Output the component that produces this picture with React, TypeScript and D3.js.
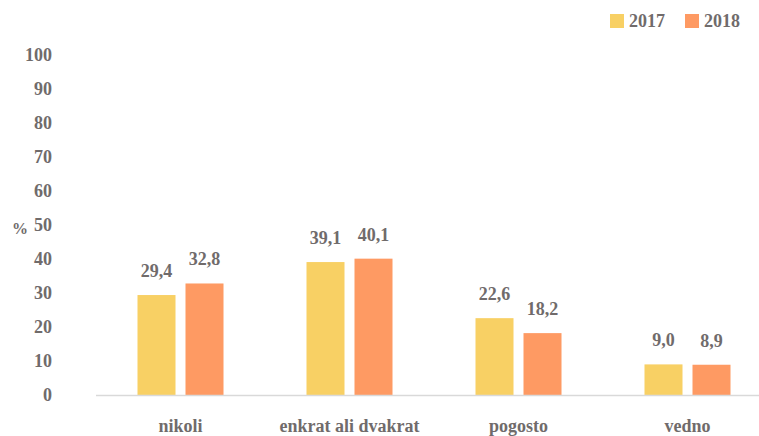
import { useEffect, useRef } from "react";
import * as d3 from "d3";

const categories = ["nikoli", "enkrat ali dvakrat", "pogosto", "vedno"];
const years = ["2017", "2018"];
const values2017 = [29.4, 39.1, 22.6, 9.0];
const values2018 = [32.8, 40.1, 18.2, 8.9];
const yTicks = [0, 10, 20, 30, 40, 50, 60, 70, 80, 90, 100];
const colors = ["#F8D064", "#FE9A63"];

const App = () => {
  const svgRef = useRef<SVGSVGElement>(null);

  useEffect(() => {
    if (!svgRef.current) return;
    const svg = d3.select(svgRef.current);
    svg.selectAll("*").remove();

    const width = 759;
    const height = 436;
    const font = "'Liberation Serif', 'Times New Roman', serif";
    const textColor = "#706b6b";

    const x = d3.scaleBand<string>().domain(categories).range([96, 772]);
    // two bars of 38px with a 10px gap
    const inner = d3.scaleBand<string>().domain(years).range([0, 86]).paddingInner(10 / 48);
    const y = d3.scaleLinear().domain([0, 100]).range([395, 55]);

    svg.attr("width", width).attr("height", height).style("background", "#fff");

    // y tick labels (no axis line)
    svg.append("g")
      .selectAll("text")
      .data(yTicks)
      .enter()
      .append("text")
      .attr("x", 52)
      .attr("y", (d) => y(d))
      .attr("dy", "0.35em")
      .attr("text-anchor", "end")
      .attr("font-family", font)
      .attr("font-weight", 700)
      .attr("font-size", 18)
      .attr("fill", textColor)
      .text((d) => d);

    svg.append("text")
      .attr("x", 20)
      .attr("y", 228)
      .attr("dy", "0.35em")
      .attr("text-anchor", "middle")
      .attr("font-family", font)
      .attr("font-weight", 700)
      .attr("font-size", 16)
      .attr("fill", textColor)
      .text("%");

    const series = [values2017, values2018];

    const groups = svg.append("g")
      .selectAll("g")
      .data(categories)
      .enter()
      .append("g")
      .attr("transform", (d) => `translate(${(x(d) ?? 0) + x.bandwidth() / 2 - 43},0)`);

    groups.each(function (cat, i) {
      const g = d3.select(this);
      years.forEach((yr, k) => {
        const v = series[k][i];
        g.append("rect")
          .attr("x", inner(yr) ?? 0)
          .attr("y", y(v))
          .attr("width", inner.bandwidth())
          .attr("height", y(0) - y(v))
          .attr("fill", colors[k]);
        g.append("text")
          .attr("x", (inner(yr) ?? 0) + inner.bandwidth() / 2)
          .attr("y", y(v) - 18)
          .attr("text-anchor", "middle")
          .attr("font-family", font)
          .attr("font-weight", 700)
          .attr("font-size", 18)
          .attr("fill", textColor)
          .text(d3.format(".1f")(v).replace(".", ","));
      });
    });

    // baseline
    svg.append("line")
      .attr("x1", 96)
      .attr("x2", width)
      .attr("y1", y(0) + 0.5)
      .attr("y2", y(0) + 0.5)
      .attr("stroke", "#d9d9d9")
      .attr("stroke-width", 1.5);

    // category labels
    svg.append("g")
      .selectAll("text")
      .data(categories)
      .enter()
      .append("text")
      .attr("x", (d) => (x(d) ?? 0) + x.bandwidth() / 2)
      .attr("y", 432)
      .attr("text-anchor", "middle")
      .attr("font-family", font)
      .attr("font-weight", 700)
      .attr("font-size", 18)
      .attr("fill", textColor)
      .text((d) => d);

    // legend
    const legendX = [610, 685];
    years.forEach((yr, k) => {
      svg.append("rect")
        .attr("x", legendX[k])
        .attr("y", 14)
        .attr("width", 14)
        .attr("height", 14)
        .attr("fill", colors[k]);
      svg.append("text")
        .attr("x", legendX[k] + 19)
        .attr("y", 27)
        .attr("font-family", font)
        .attr("font-weight", 700)
        .attr("font-size", 18)
        .attr("fill", textColor)
        .text(yr);
    });
  }, []);

  return (
    <div style={{ position: "absolute", left: 0, top: 0 }}>
      <svg ref={svgRef} style={{ display: "block" }} />
    </div>
  );
};

export default App;
